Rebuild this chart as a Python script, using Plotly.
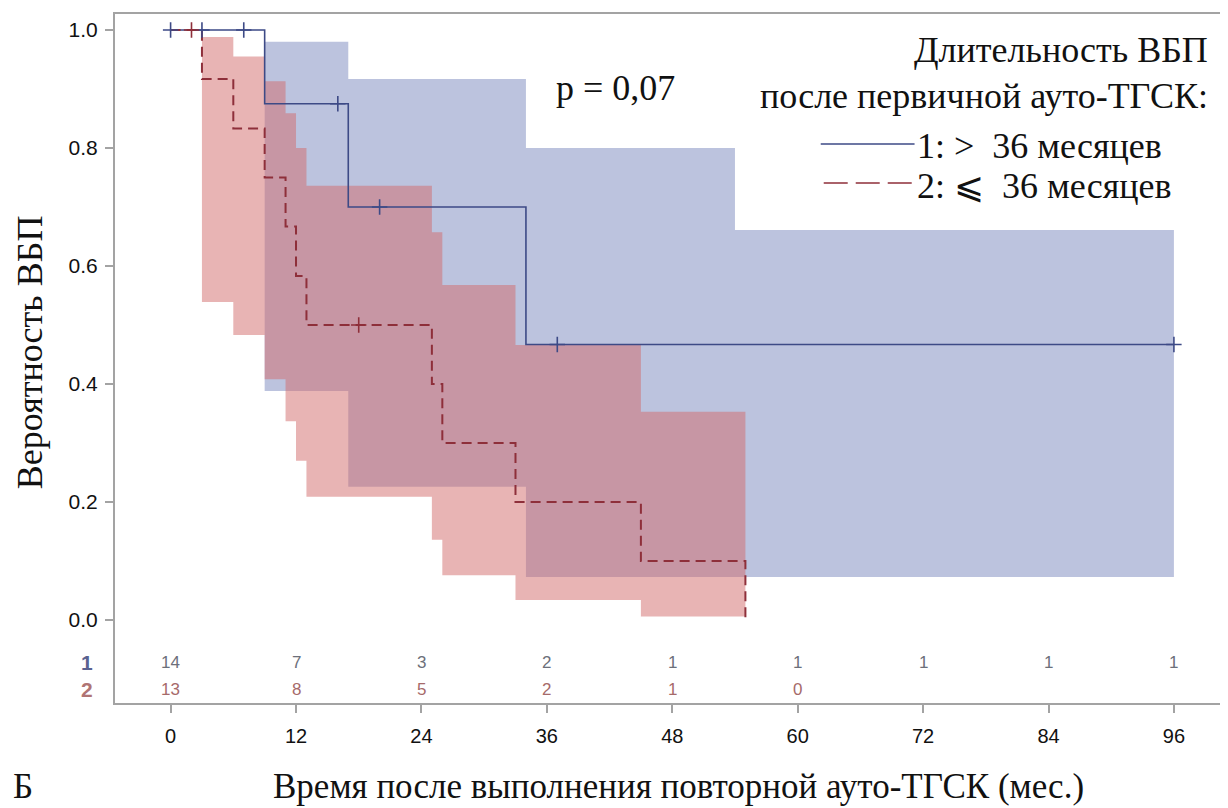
import plotly.graph_objects as go

# ---------------- data ----------------
x_ticks = [0, 12, 24, 36, 48, 60, 72, 84, 96]
y_ticks = [0.0, 0.2, 0.4, 0.6, 0.8, 1.0]

# Group 1: PFS after first auto-HSCT > 36 months
g1_time = [0, 9, 17, 34, 96]
g1_surv = [1.0, 0.875, 0.700, 0.467, 0.467]
g1_cens_time = [0, 3, 7, 16, 20, 37, 96]
g1_cens_surv = [1.0, 1.0, 1.0, 0.875, 0.700, 0.467, 0.467]
g1_band_time = [9, 17, 34, 54, 96]
g1_band_low = [0.388, 0.226, 0.073, 0.073, 0.073]
g1_band_up = [0.980, 0.917, 0.800, 0.661, 0.661]

# Group 2: PFS after first auto-HSCT <= 36 months
g2_time = [0, 3, 6, 9, 11, 12, 13, 25, 26, 33, 45, 55]
g2_surv = [1.0, 0.917, 0.833, 0.750, 0.667, 0.583, 0.500, 0.400, 0.300, 0.200, 0.100, 0.0]
g2_cens_time = [2, 18]
g2_cens_surv = [1.0, 0.500]
g2_band_time = [3, 6, 9, 11, 12, 13, 25, 26, 33, 45, 55]
g2_band_low = [0.539, 0.483, 0.408, 0.337, 0.270, 0.209, 0.136, 0.076, 0.034, 0.006, 0.006]
g2_band_up = [0.988, 0.955, 0.913, 0.859, 0.800, 0.736, 0.657, 0.568, 0.466, 0.353, 0.353]

# Numbers at risk
risk_times = [0, 12, 24, 36, 48, 60, 72, 84, 96]
risk_g1 = [14, 7, 3, 2, 1, 1, 1, 1, 1]
risk_g2 = [13, 8, 5, 2, 1, 0]

p_text = "p = 0,07"
legend_title = ["Длительность ВБП", "после первичной ауто-ТГСК:"]
legend_items = ["1: >\u00a0 36 месяцев", "2: \u2a7d\u00a0 36 месяцев"]
x_title = "Время после выполнения повторной ауто-ТГСК (мес.)"
y_title = "Вероятность ВБП"
panel = "Б"

# ---------------- styling / layout calibration ----------------
PAGE_W, PAGE_H = 1228, 808
BODY = 8                                   # default page body margin
L, R, T, B = 115, 1226, 14, 703            # plot area in page pixels
X0PX, XSCALE = 170.7, 10.47                # page pixel of month 0, pixels per month
Y0PX, YSCALE = 620.0, 590.0                # page pixel of prob 0, pixels per unit
x_range = [(L - X0PX) / XSCALE, (R - X0PX) / XSCALE]
y_range = [(Y0PX - B) / YSCALE, (Y0PX - T) / YSCALE]

def py2y(py):
    return (Y0PX - py) / YSCALE

def px2p(px):
    return (px - L) / (R - L)

def py2p(py):
    return (B - py) / (B - T)

BLUE = "#3d4a86"
RED = "#8e2f3a"
BLUE_FILL = "rgba(121,135,189,0.5)"
RED_FILL = "rgba(209,105,105,0.5)"
AXIS = "#a3a3a3"
SERIF = "Liberation Serif, Times New Roman, serif"
SANS = "Liberation Sans, Arial, sans-serif"
SERIF_SIZE = 36
TXT = "#111111"

fig = go.Figure()

# confidence bands
fig.add_trace(go.Scatter(x=g1_band_time, y=g1_band_low, mode="lines", line=dict(width=0, shape="hv"),
                         hoverinfo="skip", showlegend=False))
fig.add_trace(go.Scatter(x=g1_band_time, y=g1_band_up, mode="lines", line=dict(width=0, shape="hv"),
                         fill="tonexty", fillcolor=BLUE_FILL, hoverinfo="skip", showlegend=False))
fig.add_trace(go.Scatter(x=g2_band_time, y=g2_band_low, mode="lines", line=dict(width=0, shape="hv"),
                         hoverinfo="skip", showlegend=False))
fig.add_trace(go.Scatter(x=g2_band_time, y=g2_band_up, mode="lines", line=dict(width=0, shape="hv"),
                         fill="tonexty", fillcolor=RED_FILL, hoverinfo="skip", showlegend=False))

# KM curves
fig.add_trace(go.Scatter(x=g1_time, y=g1_surv, mode="lines", line=dict(color=BLUE, width=1.6, shape="hv"),
                         hoverinfo="skip", showlegend=False))
fig.add_trace(go.Scatter(x=g2_time, y=g2_surv, mode="lines",
                         line=dict(color=RED, width=2, shape="hv", dash="10px,6px"),
                         hoverinfo="skip", showlegend=False))

# censor marks
fig.add_trace(go.Scatter(x=g1_cens_time, y=g1_cens_surv, mode="markers",
                         marker=dict(symbol="cross-thin", size=11, line=dict(color=BLUE, width=1.6)),
                         hoverinfo="skip", showlegend=False))
fig.add_trace(go.Scatter(x=g2_cens_time, y=g2_cens_surv, mode="markers",
                         marker=dict(symbol="cross-thin", size=11, line=dict(color=RED, width=1.6)),
                         hoverinfo="skip", showlegend=False))

annotations = []
def note(text, px, py, size, color=TXT, family=SERIF, xanchor="center", **kw):
    annotations.append(dict(x=px2p(px), y=py2p(py), xref="paper", yref="paper", text=text,
                            showarrow=False, xanchor=xanchor, yanchor="middle",
                            font=dict(family=family, size=size, color=color), **kw))

# numbers at risk (placed on the data x scale)
for t, n in zip(risk_times, risk_g1):
    annotations.append(dict(x=t, y=py2y(662), xref="x", yref="y", text=str(n), showarrow=False,
                            xanchor="center", yanchor="middle",
                            font=dict(family=SANS, size=17, color="#6c6f7a")))
for t, n in zip(risk_times, risk_g2):
    annotations.append(dict(x=t, y=py2y(689), xref="x", yref="y", text=str(n), showarrow=False,
                            xanchor="center", yanchor="middle",
                            font=dict(family=SANS, size=17, color="#a66a6a")))
note("<b>1</b>", 95, 662, 21, color="#5a6290", family=SANS, xanchor="right")
note("<b>2</b>", 95, 689, 21, color="#b07474", family=SANS, xanchor="right")

note(p_text, 616, 88, SERIF_SIZE)
for txt, yy in zip(legend_title, [50, 96]):
    note(txt, 1212, yy, SERIF_SIZE, xanchor="right")
for txt, yy in zip(legend_items, [146, 186]):
    note(txt, 916, yy, SERIF_SIZE, xanchor="left")
note(x_title, 680, 786, 35)
note(y_title, 30, 352, SERIF_SIZE, textangle=-90)
note(panel, 23, 786, 35)

shapes = [
    dict(type="line", xref="paper", yref="paper", x0=px2p(822), x1=px2p(916), y0=py2p(144), y1=py2p(144),
         line=dict(color=BLUE, width=1.6)),
    dict(type="line", xref="paper", yref="paper", x0=px2p(825), x1=px2p(914), y0=py2p(183), y1=py2p(183),
         line=dict(color=RED, width=1.6, dash="24px,8px")),
]

fig.update_layout(
    width=PAGE_W - BODY, height=PAGE_H - BODY,
    margin=dict(l=L - BODY, r=PAGE_W - R, t=T - BODY, b=PAGE_H - B, pad=0),
    paper_bgcolor="white", plot_bgcolor="white",
    annotations=annotations, shapes=shapes,
    xaxis=dict(range=x_range, tickvals=x_ticks, ticks="outside", ticklen=8, tickwidth=1.5, tickcolor=AXIS,
               showline=True, linecolor=AXIS, linewidth=2, mirror=True, showgrid=False, zeroline=False,
               ticklabelstandoff=6,
               tickfont=dict(family=SANS, size=20, color="#111111")),
    yaxis=dict(range=y_range, tickvals=y_ticks, tickformat=".1f", ticks="outside", ticklen=8, tickwidth=1.5,
               tickcolor=AXIS, showline=True, linecolor=AXIS, linewidth=2, mirror=True, showgrid=False,
               zeroline=False, ticklabelstandoff=3,
               tickfont=dict(family=SANS, size=21, color="#111111")),
)

fig.write_html("out.html", config={"displayModeBar": False})
